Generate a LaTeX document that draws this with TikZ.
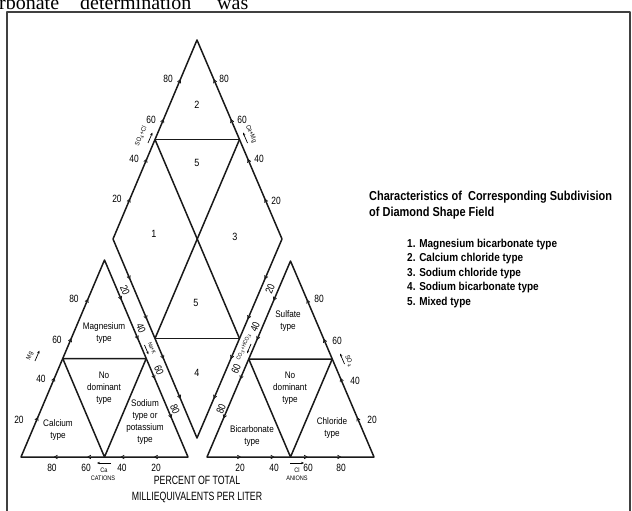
\documentclass[tikz,border=0pt]{standalone}
\usepackage{fontspec}
\setmainfont{Liberation Sans}
\newfontfamily\legfont[FakeStretch=0.845]{Liberation Sans}
\newfontfamily\legitemfont[FakeStretch=0.87]{Liberation Sans}
\newfontfamily\labfont[FakeStretch=0.86]{Liberation Sans}
\newfontfamily\numfont[FakeStretch=0.8]{Liberation Sans}
\newfontfamily\condfont[FakeStretch=0.73]{Liberation Sans}
\newfontfamily\serfont{Liberation Serif}
\usetikzlibrary{calc,arrows.meta}
\tikzset{
  mainline/.style={line width=1.5pt, draw=black!90},
  tickmark/.style={line width=0.8pt, draw=black!90},
  framel/.style={line width=1.4pt, draw=black!75},
  numlab/.style={font=\numfont\fontsize{10.5}{11}\selectfont, inner sep=0pt},
  typelab/.style={font=\labfont\fontsize{9.5}{11.8}\selectfont, align=center, inner sep=0pt},
  fieldnum/.style={font=\labfont\fontsize{10.5}{10.5}\selectfont, inner sep=0pt},
  smalllab/.style={font=\labfont\fontsize{6.5}{7}\selectfont, inner sep=0pt},
  tinylab/.style={font=\labfont\fontsize{5.6}{6}\selectfont, inner sep=0pt},
  axisarrow/.style={-{Stealth[length=3pt,width=2.4pt]}, line width=0.7pt},
  legtitle/.style={font=\legfont\bfseries\fontsize{13}{15}\selectfont, anchor=west, inner sep=0pt},
  legitem/.style={font=\legitemfont\bfseries\fontsize{11.5}{13}\selectfont, anchor=west, inner sep=0pt},
  bottomlab/.style={font=\condfont\fontsize{12}{16}\selectfont, align=center, inner sep=0pt}
}
\begin{document}
\begin{tikzpicture}[x=1pt,y=-1pt,line join=round]
\useasboundingbox (0,0) rectangle (632,511);
\fill[white] (0,0) rectangle (632,511);
% clipped page text
\begin{scope}
\clip (0,0) rectangle (632,511);
\node[font=\serfont\fontsize{20}{20}\selectfont, anchor=base west, inner sep=0pt] (pt1) at (-1,10) {rbonate};
\node[font=\serfont\fontsize{20}{20}\selectfont, anchor=base west, inner sep=0pt] (pt2) at (80,10) {determination};
\node[font=\serfont\fontsize{20}{20}\selectfont, anchor=base west, inner sep=0pt] (pt3) at (217,10) {was};
\end{scope}
% frame
\draw[framel] (7,512) -- (7,12) -- (630,12) -- (630,512);

% coordinates
\coordinate (A1) at (21,457); \coordinate (B1) at (188,457); \coordinate (C1) at (104.5,260);
\coordinate (A2) at (207,457); \coordinate (B2) at (374,457); \coordinate (C2) at (290.5,261);
\coordinate (T) at (197,40); \coordinate (L) at (113,239); \coordinate (R) at (282,239); \coordinate (Bm) at (197,438);
\coordinate (m1a) at ($(A1)!.5!(C1)$); \coordinate (m1b) at ($(B1)!.5!(C1)$); \coordinate (m1c) at ($(A1)!.5!(B1)$);
\coordinate (m2a) at ($(A2)!.5!(C2)$); \coordinate (m2b) at ($(B2)!.5!(C2)$); \coordinate (m2c) at ($(A2)!.5!(B2)$);
\coordinate (dLT) at ($(L)!.5!(T)$); \coordinate (dRT) at ($(R)!.5!(T)$);
\coordinate (dLB) at ($(L)!.5!(Bm)$); \coordinate (dRB) at ($(R)!.5!(Bm)$);

% triangles
\draw[mainline] (A1) -- (B1) -- (C1) -- cycle;
\draw[mainline] (m1a) -- (m1b) -- (m1c) -- cycle;
\draw[mainline] (A2) -- (B2) -- (C2) -- cycle;
\draw[mainline] (m2a) -- (m2b) -- (m2c) -- cycle;
% diamond
\draw[mainline] (T) -- (R) -- (Bm) -- (L) -- cycle;
\draw[mainline] (dLT) -- (dRT);
\draw[mainline] (dLB) -- (dRB);
\draw[mainline] (dLT) -- (dRB);
\draw[mainline] (dRT) -- (dLB);

% tick marks
\foreach \s/\e in {A1/C1, B1/A1, C1/B1, C2/A2, A2/B2, B2/C2, L/T, R/T, L/Bm, R/Bm}{
  \foreach \f in {0.2,0.4,0.6,0.8}{
    \coordinate (tk) at ($(\s)!\f!(\e)$);
    \draw[tickmark] ($(tk)!3.5pt!150:(\e)$) -- (tk) -- ($(tk)!3.5pt!-150:(\e)$);
  }
}

% left triangle labels
\node[numlab] (l80) at (74,299) {80};
\node[numlab] (l60) at (57,340) {60};
\node[numlab] (l40) at (41,379) {40};
\node[numlab] (l20) at (19,420) {20};
\node[smalllab, rotate=67] (mg) at (30,356) {Mg};
\draw[axisarrow] (35,361) -- (39.5,350.5);
\node[numlab] (b80) at (52,468) {80};
\node[numlab] (b60) at (86,468) {60};
\node[numlab] (b40) at (122,468) {40};
\node[numlab] (b20) at (156,468) {20};
\draw[axisarrow] (111,463) -- (97,463);
\node[smalllab] (ca) at (104,470.5) {Ca};
\node[smalllab] (cat) at (103,478.5) {CATIONS};
\node[numlab, rotate=-67] (n20) at (125,290) {20};
\node[numlab, rotate=-67] (n40) at (141,328) {40};
\node[numlab, rotate=-67] (n60) at (159,370) {60};
\node[numlab, rotate=-67] (n80) at (175,409) {80};
\node[tinylab, rotate=-67] (nak) at (152,348) {Na+K};
\draw[axisarrow] (144.5,345) -- (148.5,354.5);

% right triangle labels
\node[numlab, rotate=67] (c20) at (270,289) {20};
\node[numlab, rotate=67] (c40) at (255,327) {40};
\node[numlab, rotate=67] (c60) at (236,369) {60};
\node[numlab, rotate=67] (c80) at (221,409) {80};
\node[tinylab, rotate=67] (co3) at (244,347) {CO$_3$+HCO$_3$};
\draw[axisarrow] (251,344) -- (247,353.5);
\node[numlab] (r20) at (240,468) {20};
\node[numlab] (r40) at (274,468) {40};
\node[numlab] (r60) at (308,468) {60};
\node[numlab] (r80) at (341,468) {80};
\draw[axisarrow] (290,463) -- (304,463);
\node[smalllab] (cl) at (297,470.5) {Cl};
\node[smalllab] (an) at (297,478.5) {ANIONS};
\node[numlab] (s80) at (319,299) {80};
\node[numlab] (s60) at (337,341) {60};
\node[numlab] (s40) at (355,381) {40};
\node[numlab] (s20) at (372,420) {20};
\node[smalllab, rotate=-67] (so4) at (349,361) {SO$_4$};
\draw[axisarrow] (344.5,364) -- (340,353.5);

% diamond labels
\node[numlab] (u20) at (117,199) {20};
\node[numlab] (u40) at (134,159) {40};
\node[numlab] (u60) at (151,120) {60};
\node[numlab] (u80) at (168,79) {80};
\node[smalllab, rotate=67] (socl) at (141,136) {SO$_4$+Cl};
\draw[axisarrow] (148,143) -- (152.5,132.5);
\node[numlab] (v20) at (276,201) {20};
\node[numlab] (v40) at (259,159) {40};
\node[numlab] (v60) at (242,120) {60};
\node[numlab] (v80) at (224,79) {80};
\node[smalllab, rotate=-67] (camg) at (251,134) {Ca+Mg};
\draw[axisarrow] (247.5,143) -- (243,132.5);

% field numbers
\node[fieldnum] (f2) at (197,105) {2};
\node[fieldnum] (f5a) at (197,163) {5};
\node[fieldnum] (f1) at (154,234) {1};
\node[fieldnum] (f3) at (235,237) {3};
\node[fieldnum] (f5b) at (196,303) {5};
\node[fieldnum] (f4) at (197,373) {4};

% sub-triangle type labels
\node[typelab] (mgt) at (104,333) {Magnesium\\type};
\node[typelab] (ndl) at (104,388) {No\\dominant\\type};
\node[typelab] (cat2) at (58,430) {Calcium\\type};
\node[typelab] (sod) at (145,422) {Sodium\\type or\\potassium\\type};
\node[typelab] (sul) at (288,321) {Sulfate\\type};
\node[typelab] (ndr) at (290,388) {No\\dominant\\type};
\node[typelab] (bic) at (252,436) {Bicarbonate\\type};
\node[typelab] (chl) at (332,428) {Chloride\\type};

% bottom caption
\node[bottomlab] (cap) at (197,489) {PERCENT OF TOTAL\\MILLIEQUIVALENTS PER LITER};

% legend
\node[legtitle] (lt1) at (369,197) {Characteristics of\ \ Corresponding Subdivision};
\node[legtitle] (lt2) at (369,213) {of Diamond Shape Field};
\node[legitem] (li1) at (407,245) {1. Magnesium bicarbonate type};
\node[legitem] (li2) at (407,259) {2. Calcium chloride type};
\node[legitem] (li3) at (407,273.5) {3. Sodium chloride type};
\node[legitem] (li4) at (407,288) {4. Sodium bicarbonate type};
\node[legitem] (li5) at (407,302.5) {5. Mixed type};
\end{tikzpicture}
\end{document}
